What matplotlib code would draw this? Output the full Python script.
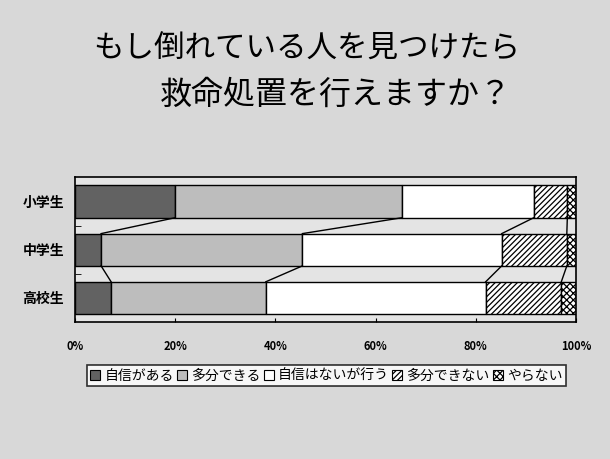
import numpy as np
import matplotlib.pyplot as plt
from matplotlib.patches import Patch

plt.rcParams['font.family'] = ['Noto Sans CJK JP', 'DejaVu Sans']
plt.rcParams['hatch.linewidth'] = 0.9

# データ（％）
categories = ['小学生', '中学生', '高校生']
series_names = ['自信がある', '多分できる', '自信はないが行う', '多分できない', 'やらない']
jishin_aru = [20.0, 5.2, 7.2]
tabun_dekiru = [45.3, 40.2, 30.9]
jishin_nai = [26.3, 39.8, 43.9]
tabun_dekinai = [6.7, 13.0, 15.1]
yaranai = [1.7, 1.8, 2.9]
xticks = [0, 20, 40, 60, 80, 100]
xtick_labels = ['0%', '20%', '40%', '60%', '80%', '100%']

series = [jishin_aru, tabun_dekiru, jishin_nai, tabun_dekinai, yaranai]
colors = ['#626262', '#bdbdbd', 'white', 'white', 'white']
hatches = [None, None, None, '//////', 'xxxxx']

fig = plt.figure(figsize=(6.1, 4.59), dpi=100, facecolor='#d8d8d8')
ax = fig.add_axes([0.123, 0.2985, 0.821, 0.3148])
ax.set_facecolor('#e4e4e4')

y = np.arange(len(categories))
h = 0.67
left = np.zeros(len(categories))
cums = []
for vals, c, ht in zip(series, colors, hatches):
    vals = np.array(vals)
    ax.barh(y, vals, left=left, height=h, color=c, edgecolor='black',
            linewidth=1.0, hatch=ht)
    left = left + vals
    cums.append(left.copy())

# 区分線
for cum in cums[:-1]:
    for i in range(len(categories) - 1):
        ax.plot([cum[i], cum[i + 1]], [i + h / 2, i + 1 - h / 2],
                color='black', linewidth=1.0)

ax.set_xlim(0, 100)
ax.set_ylim(2.5, -0.5)
for s in ax.spines.values():
    s.set_linewidth(1.2)

ax.set_xticks(xticks)
ax.set_xticklabels(xtick_labels, fontsize=8, fontweight='bold')
ax.tick_params(axis='x', direction='in', length=3, pad=13)
ax.set_yticks(y)
ax.set_yticklabels(categories, fontsize=10, fontweight='bold')
ax.tick_params(axis='y', length=0, pad=8)
ax.set_yticks([0.5, 1.5], minor=True)
ax.tick_params(axis='y', which='minor', direction='in', length=4)

fig.text(0.152, 0.894, 'もし倒れている人を見つけたら', fontsize=22,
         ha='left', va='center')
fig.text(0.262, 0.794, '救命処置を行えますか？', fontsize=23,
         ha='left', va='center')

handles = [Patch(facecolor=c, edgecolor='black', hatch=ht, linewidth=0.8)
           for c, ht in zip(colors, hatches)]
leg = fig.legend(handles, series_names, loc='center', bbox_to_anchor=(0.535, 0.181),
                 ncol=5, fontsize=10, frameon=True, fancybox=False,
                 handlelength=0.7, handleheight=0.7, handletextpad=0.3,
                 columnspacing=0.25, borderpad=0.25, borderaxespad=0)
leg.get_frame().set_edgecolor('black')
leg.get_frame().set_linewidth(1.2)
leg.get_frame().set_facecolor('white')

plt.savefig('out.png', dpi=100, facecolor=fig.get_facecolor())
